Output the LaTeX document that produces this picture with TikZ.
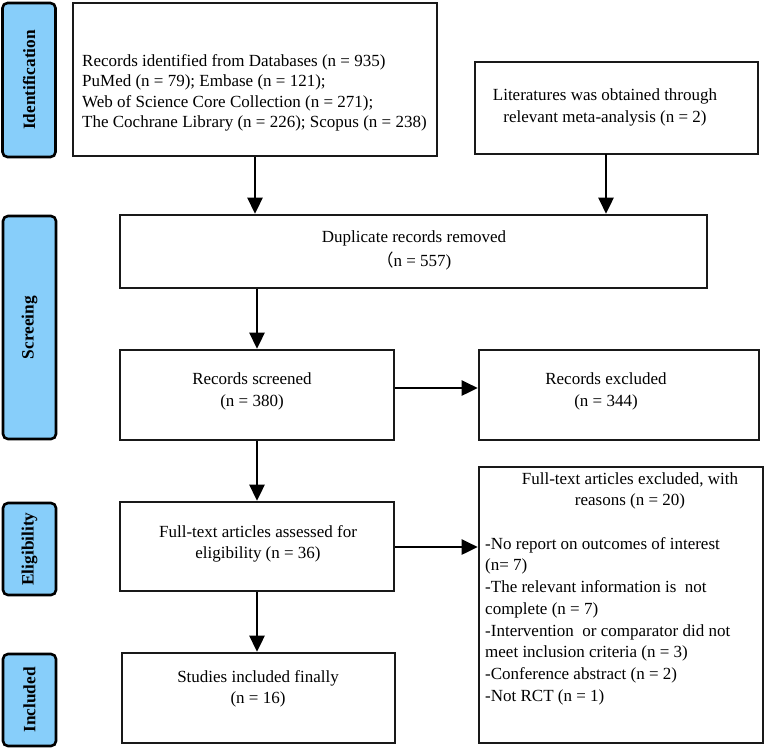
\documentclass[tikz,border=0pt]{standalone}
\usepackage{fontspec}
\setmainfont{Liberation Serif}
\newfontfamily\cjkfont{Noto Sans CJK SC}
\usetikzlibrary{arrows.meta}
\definecolor{stagefill}{RGB}{135,206,250}
\begin{document}
\begin{tikzpicture}[x=1pt,y=-1pt,
  every node/.style={font=\fontsize{17}{21.5}\selectfont, inner sep=0pt},
  stage/.style={draw=black, line width=2.6pt, fill=stagefill, rounded corners=5pt,
    minimum width=53pt},
  stagetext/.style={rotate=90, font=\fontsize{17.3}{21.5}\selectfont\bfseries},
  flowbox/.style={draw=black!90, line width=2.6pt, fill=white},
  arr/.style={line width=2.6pt, -{Triangle[length=16pt,width=15pt]}}
]
\useasboundingbox (0,0) rectangle (767,748);

% stage labels on the left
\node[stage, minimum height=154pt] (sIdent) at (29,80) {};
\node[stagetext] (tIdent) at (sIdent.center) {Identification};
\node[stage, minimum height=223pt] (sScreen) at (29.5,327.5) {};
\node[stagetext] (tScreen) at (sScreen.center) {Screeing};
\node[stage, minimum height=92pt] (sElig) at (29.5,549) {};
\node[stagetext] (tElig) at (sElig.center) {Eligibility};
\node[stage, minimum height=92pt] (sIncl) at (29.5,700) {};
\node[stagetext] (tIncl) at (sIncl.center) {Included};

% flow boxes
\node[flowbox, minimum width=364pt, minimum height=153pt] (recid) at (255,79.5) {};
\node[flowbox, minimum width=283pt, minimum height=92pt] (lit) at (616.5,108) {};
\node[flowbox, minimum width=587pt, minimum height=73pt] (dup) at (413.5,251.5) {};
\node[flowbox, minimum width=274pt, minimum height=90pt] (scr) at (257,395) {};
\node[flowbox, minimum width=280pt, minimum height=90pt] (exc) at (619,395) {};
\node[flowbox, minimum width=274pt, minimum height=89pt] (ass) at (257,546.5) {};
\node[flowbox, minimum width=284pt, minimum height=276pt] (fexc) at (621,605) {};
\node[flowbox, minimum width=273pt, minimum height=90pt] (incbox) at (258.5,698) {};

% box texts
\node[anchor=west, align=left, font=\fontsize{17}{20.4}\selectfont] (recidtxt) at (82,93)
  {Records identified from Databases (n = 935)\\
   PuMed (n = 79); Embase (n = 121);\\
   Web of Science Core Collection (n = 271);\\
   The Cochrane Library (n = 226); Scopus (n = 238)};
\node[align=center] (littxt) at (605,107.5)
  {Literatures was obtained through\\relevant meta-analysis (n = 2)};
\node[align=center, font=\fontsize{17}{24}\selectfont] (duptxt) at (414,250)
  {Duplicate records removed\\{\cjkfont （}n = 557)};
\node[align=center] (scrtxt) at (252,391.5) {Records screened\\(n = 380)};
\node[align=center] (exctxt) at (606,391.5) {Records excluded\\(n = 344)};
\node[align=center] (asstxt) at (258,544) {Full-text articles assessed for\\eligibility (n = 36)};
\node[align=center] (inctxt) at (258,689) {Studies included finally\\(n = 16)};
\node[align=center] (fexchead) at (630,491)
  {Full-text articles excluded, with\\reasons (n = 20)};
\node[anchor=west, align=left, font=\fontsize{17}{21.7}\selectfont] (fexclist) at (485,621)
  {-No report on outcomes of interest\\
   (n= 7)\\
   -The relevant information is\ \ not\\
   complete (n = 7)\\
   -Intervention\ \ or comparator did not\\
   meet inclusion criteria (n = 3)\\
   -Conference abstract (n = 2)\\
   -Not RCT (n = 1)};

% connectors
\coordinate (litdrop) at (606,154);
\coordinate (rowA) at (0,388);
\coordinate (rowB) at (0,547);
\draw[arr] (recid.south) -- (recid.south |- dup.north);
\draw[arr] (litdrop) -- (litdrop |- dup.north);
\draw[arr] (scr.north |- dup.south) -- (scr.north);
\draw[arr] (scr.east |- rowA) -- (exc.west |- rowA);
\draw[arr] (scr.south) -- (ass.north);
\draw[arr] (ass.east |- rowB) -- (fexc.west |- rowB);
\draw[arr] (ass.south) -- (ass.south |- incbox.north);
\end{tikzpicture}
\end{document}
